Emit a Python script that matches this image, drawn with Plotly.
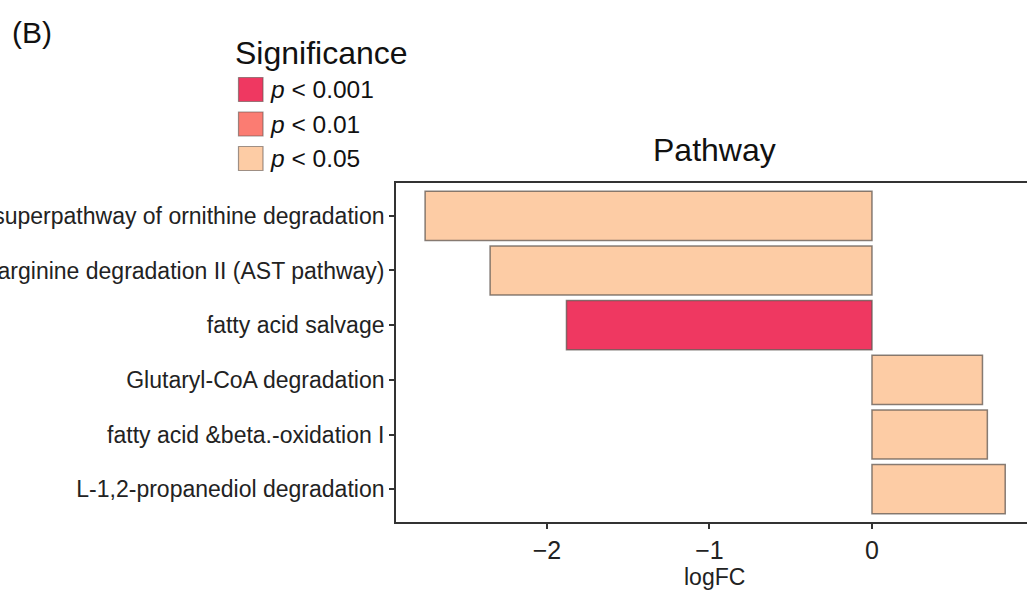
import plotly.graph_objects as go

# ---- data ----
pathways = [
    "superpathway of ornithine degradation",
    "arginine degradation II (AST pathway)",
    "fatty acid salvage",
    "Glutaryl-CoA degradation",
    "fatty acid &beta.-oxidation I",
    "L-1,2-propanediol degradation",
]
logfc = [-2.75, -2.35, -1.88, 0.68, 0.71, 0.82]
significance = ["p < 0.05", "p < 0.05", "p < 0.001", "p < 0.05", "p < 0.05", "p < 0.05"]

sig_levels = ["p < 0.001", "p < 0.01", "p < 0.05"]
sig_colors = {"p < 0.001": "#EF3861", "p < 0.01": "#FB7C72", "p < 0.05": "#FDCCA5"}
x_ticks = [-2, -1, 0]

# ---- layout geometry (pixels) ----
W, H = 1027, 591
L, R, T, B = 396, 0, 183, 69
PW = W - L - R
PH = H - T - B


def px(x):
    return (x - L) / PW


def py(y):
    return (H - B - y) / PH


FONT = "Liberation Sans, Arial, Helvetica, sans-serif"
AX = "#333333"

fig = go.Figure()
fig.add_trace(go.Bar(
    x=logfc,
    y=pathways,
    orientation="h",
    width=0.9,
    marker=dict(color=[sig_colors[s] for s in significance],
                line=dict(color="rgba(95,85,80,0.75)", width=1.5)),
    showlegend=False,
    hoverinfo="x+y",
))

shapes = []
annotations = []

# legend (manual, ggplot-like)
annotations.append(dict(text="Significance", x=px(233), y=py(53), xref="paper", yref="paper",
                        xanchor="left", yanchor="middle", showarrow=False,
                        font=dict(family=FONT, size=32, color="#111111")))
for i, lev in enumerate(sig_levels):
    top = 77.5 + i * 34.5
    shapes.append(dict(type="rect", xref="paper", yref="paper",
                       x0=px(238.5), x1=px(263), y0=py(top), y1=py(top + 24),
                       fillcolor=sig_colors[lev],
                       line=dict(color="rgba(95,85,80,0.6)", width=1.2)))
    p_txt = lev.replace("p", "<i>p</i>", 1)
    annotations.append(dict(text=p_txt, x=px(268), y=py(top + 12), xref="paper", yref="paper",
                            xanchor="left", yanchor="middle", showarrow=False,
                            font=dict(family=FONT, size=24.5, color="#111111")))

annotations.append(dict(text="(B)", x=px(10), y=py(32), xref="paper", yref="paper",
                        xanchor="left", yanchor="middle", showarrow=False,
                        font=dict(family=FONT, size=30, color="#111111")))
annotations.append(dict(text="Pathway", x=px(714), y=py(150), xref="paper", yref="paper",
                        xanchor="center", yanchor="middle", showarrow=False,
                        font=dict(family=FONT, size=32, color="#111111")))
annotations.append(dict(text="logFC", x=px(714), y=py(577), xref="paper", yref="paper",
                        xanchor="center", yanchor="middle", showarrow=False,
                        font=dict(family=FONT, size=23, color="#222222")))

fig.update_layout(
    width=W, height=H,
    margin=dict(l=L, r=R, t=T, b=B, pad=0, autoexpand=False),
    paper_bgcolor="white", plot_bgcolor="white",
    font=dict(family=FONT, color="#222222"),
    shapes=shapes,
    annotations=annotations,
    bargap=0.1,
)
fig.update_xaxes(
    automargin=False,
    range=[-2.929, 0.954],
    tickvals=x_ticks,
    ticks="outside", ticklen=5, tickwidth=1.5, tickcolor=AX,
    showline=True, linecolor=AX, linewidth=1.8, mirror=True,
    showgrid=False, zeroline=False,
    tickfont=dict(family=FONT, size=25, color="#222222"),
)
fig.update_yaxes(
    automargin=False,
    type="category",
    categoryorder="array", categoryarray=pathways,
    range=[len(pathways) - 0.4, -0.6],
    ticks="outside", ticklen=5, tickwidth=1.5, tickcolor=AX,
    showline=True, linecolor=AX, linewidth=1.8, mirror=False,
    showgrid=False, zeroline=False,
    tickfont=dict(family=FONT, size=23, color="#222222"),
)

fig.write_html("out.html", config={"displayModeBar": False},
               post_script="document.body.style.margin='0';document.body.style.overflow='hidden';")
